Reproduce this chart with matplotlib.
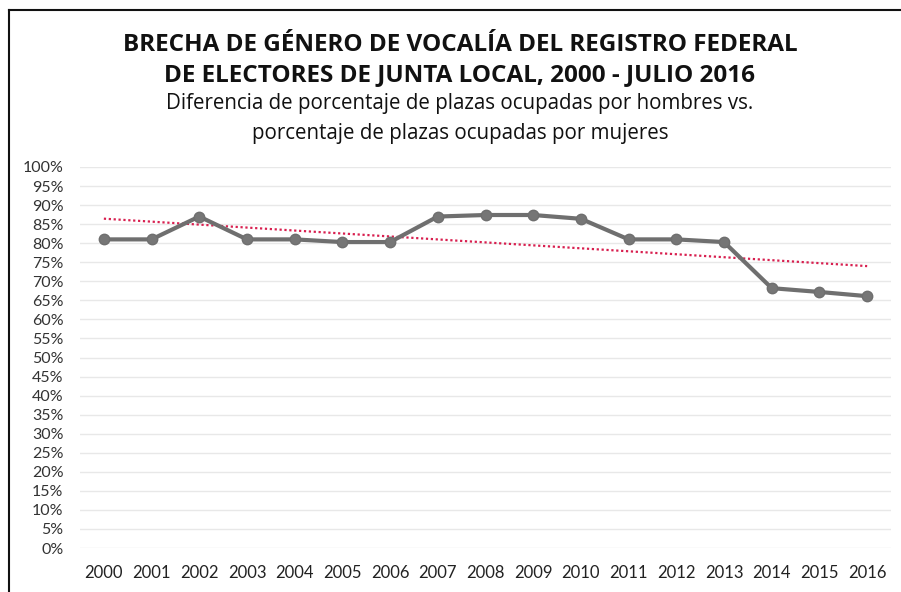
import matplotlib
matplotlib.use("Agg")
import matplotlib.pyplot as plt
from matplotlib.lines import Line2D
from matplotlib.ticker import MultipleLocator, FuncFormatter
import numpy as np

# Data
years = list(range(2000, 2017))
brecha = [0.81, 0.81, 0.87, 0.81, 0.81, 0.803, 0.803, 0.87, 0.874, 0.874,
          0.864, 0.81, 0.81, 0.803, 0.682, 0.672, 0.661]

title_lines = ["BRECHA DE GÉNERO DE VOCALÍA DEL REGISTRO FEDERAL",
               "DE ELECTORES DE JUNTA LOCAL, 2000 - JULIO 2016"]
subtitle_lines = ["Diferencia de porcentaje de plazas ocupadas por hombres vs.",
                  "porcentaje de plazas ocupadas por mujeres"]

plt.rcParams["font.family"] = ["Lato", "DejaVu Sans"]

fig = plt.figure(figsize=(9.01, 5.92), dpi=100)
ax = fig.add_axes([80 / 901, 44 / 592, 811 / 901, 381 / 592])

# linear trend line (Excel style)
slope, intercept = np.polyfit(years, brecha, 1)
trend = [slope * y + intercept for y in years]
ax.plot(years, trend, linestyle=(0, (1, 1.2)), color="#d81f4f", linewidth=1.6, zorder=2)

ax.plot(years, brecha, color="#6f6f6f", linewidth=3, marker="o",
        markersize=7.5, markerfacecolor="#767676", markeredgecolor="#6f6f6f", zorder=3)

ax.set_xlim(1999.5, 2016.5)
ax.set_ylim(0, 1)
ax.yaxis.set_major_locator(MultipleLocator(0.05))
ax.yaxis.set_major_formatter(FuncFormatter(lambda v, p: f"{v * 100:.0f}%"))
ax.set_xticks(years)
ax.set_xticklabels([str(y) for y in years])
ax.tick_params(axis="y", length=0, labelsize=11.5, colors="#333333", pad=12)
ax.tick_params(axis="x", length=0, labelsize=12, colors="#222222", pad=12)
ax.grid(axis="y", color="#e8e8e8", linewidth=1)
ax.set_axisbelow(True)
for s in ax.spines.values():
    s.set_visible(False)

# titles
tfont = ["Open Sans", "DejaVu Sans"]
cx = 460 / 901
fig.text(cx, 1 - 45 / 592, title_lines[0], ha="center", va="center", family=tfont,
         fontsize=17.5, fontweight="bold", color="#111111")
fig.text(cx, 1 - 75 / 592, title_lines[1], ha="center", va="center", family=tfont,
         fontsize=17.5, fontweight="bold", color="#111111")
fig.text(cx, 1 - 104 / 592, subtitle_lines[0], ha="center", va="center", family=tfont,
         fontsize=14.8, color="#111111")
fig.text(cx, 1 - 133 / 592, subtitle_lines[1], ha="center", va="center", family=tfont,
         fontsize=14.8, color="#111111")

# frame lines at left and top
fig.add_artist(Line2D([8.5 / 901, 8.5 / 901], [0, 1 - 10 / 592], color="#111111", linewidth=1.5))
fig.add_artist(Line2D([8.5 / 901, 1], [1 - 10 / 592, 1 - 10 / 592], color="#111111", linewidth=1.5))

fig.savefig("out.png", dpi=100)
